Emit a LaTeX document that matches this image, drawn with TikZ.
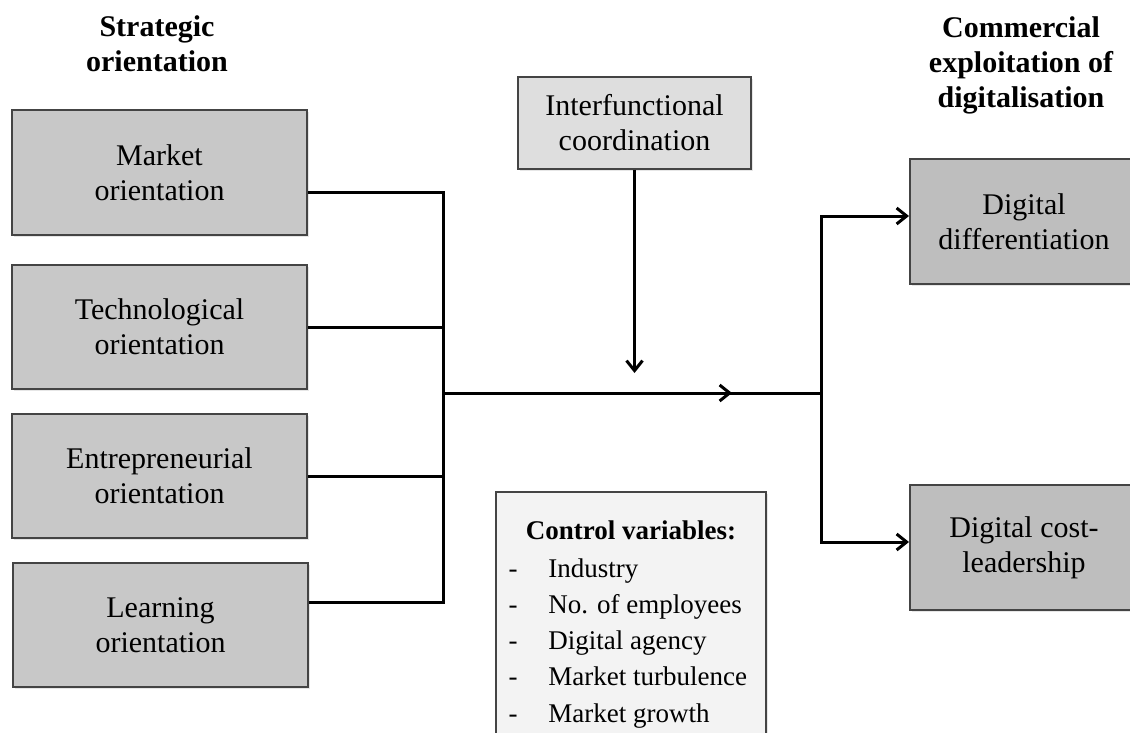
\documentclass[tikz,border=0pt]{standalone}
\usepackage{fontspec}
\setmainfont{Liberation Serif}
\usetikzlibrary{arrows.meta,shadows}

\definecolor{orientgray}{HTML}{C8C8C8}
\definecolor{outgray}{HTML}{BEBEBE}
\definecolor{modgray}{HTML}{DEDEDE}
\definecolor{ctrlgray}{HTML}{F3F3F3}
\definecolor{edgegray}{HTML}{444444}

\tikzset{
  box/.style={draw=edgegray, line width=1pt, align=center,
    font=\fontsize{15pt}{17.5pt}\selectfont,
    drop shadow={opacity=0.2, shadow xshift=1pt, shadow yshift=-1pt}},
  orient/.style={box, fill=orientgray, minimum width=147.5pt, minimum height=62pt},
  outcome/.style={box, fill=outgray, minimum width=114pt, minimum height=62.5pt},
  heading/.style={align=center, font=\fontsize{15pt}{17.5pt}\selectfont\bfseries},
  listtext/.style={font=\fontsize{13.5pt}{16pt}\selectfont, inner sep=0pt},
  link/.style={line width=1.5pt},
  arr/.style={link, -{Straight Barb[length=5pt,width=8pt]}}
}

\begin{document}
\begin{tikzpicture}[x=0.5pt,y=-0.5pt]
\useasboundingbox (0,0) rectangle (1130,733);

\node[heading] (headleft) at (157,44) {Strategic\\orientation};
\node[heading] (headright) at (1021,65) {Commercial\\exploitation of\\digitalisation};

\node[orient] (market) at (159.5,172.5) {Market\\orientation};
\node[orient] (techno) at (159.5,327) {Technological\\orientation};
\node[orient] (entre) at (159.5,476) {Entrepreneurial\\orientation};
\node[orient] (learning) at (160.5,625) {Learning\\orientation};

\node[box, fill=modgray, minimum width=116.5pt, minimum height=46pt] (coord) at (634.5,123) {Interfunctional\\coordination};

\node[outcome] (diff) at (1024,221.5) {Digital\\differentiation};
\node[outcome] (cost) at (1024,547.5) {Digital cost-\\leadership};

\node[box, fill=ctrlgray, minimum width=135pt, minimum height=130pt] (ctrl) at (631,622) {};
\node[listtext, font=\fontsize{13.5pt}{16pt}\selectfont\bfseries, anchor=base] (ctrlhead) at (631,539) {Control variables:};
\foreach \var [count=\i] in {Industry,No. of employees,Digital agency,Market turbulence,Market growth}{
  \node[listtext, anchor=base] (dash\i) at (513,540.75+36.25*\i) {-};
  \node[listtext, anchor=base west] (var\i) at (548,540.75+36.25*\i) {\var};
}

\coordinate (bottom) at (443,602);
\coordinate (join) at (443,393);
\coordinate (mid) at (732,393);
\coordinate (hub) at (821,393);
\coordinate (modpt) at (634.5,373);

\draw[link] ([yshift=-9.75pt]market.east) -| (bottom) -- ([yshift=11.5pt]learning.east);
\draw[link] (techno.east) -- (techno.east -| bottom);
\draw[link] (entre.east) -- (entre.east -| bottom);

\draw[link] (join) -- (hub);
\draw[arr] (join) -- (mid);
\draw[arr] (coord.south) -- (modpt);

\draw[arr] (hub) |- ([yshift=2.75pt]diff.west);
\draw[arr] (hub) |- ([yshift=2.75pt]cost.west);
\end{tikzpicture}
\end{document}
